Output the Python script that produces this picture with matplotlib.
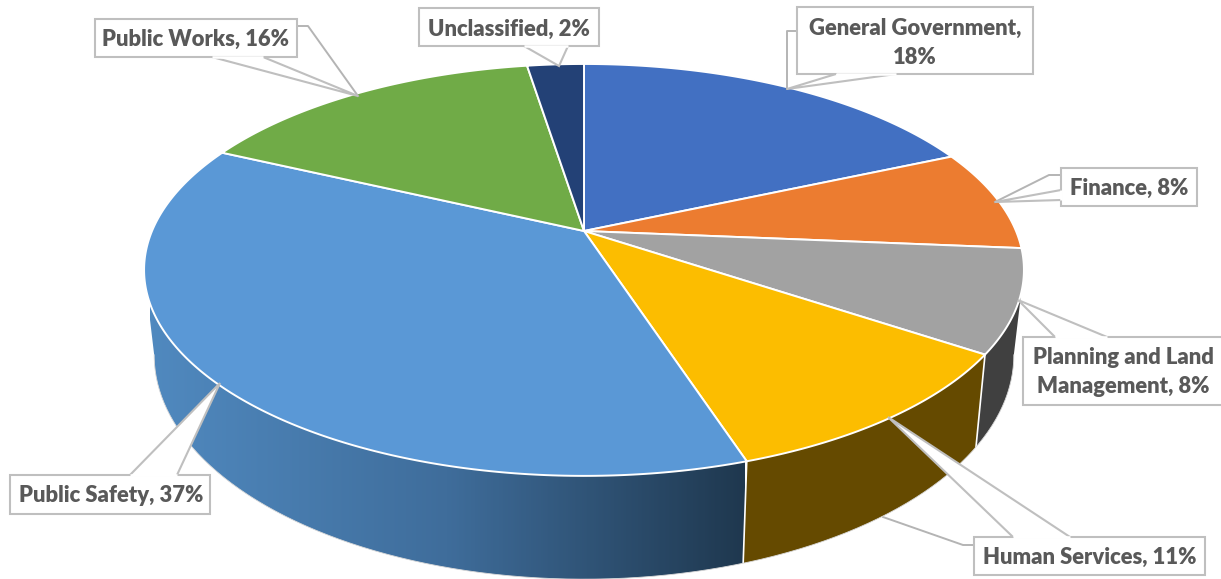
import numpy as np
import matplotlib
matplotlib.use('Agg')
import matplotlib.pyplot as plt
from matplotlib.colors import LinearSegmentedColormap
from matplotlib.patches import Polygon, Rectangle

names = ['General Government', 'Finance', 'Planning and Land\nManagement', 'Human Services',
         'Public Safety', 'Public Works', 'Unclassified']
percent_labels = [18, 8, 8, 11, 37, 16, 2]
values = [18.4, 7.95, 8.05, 10.6, 37.0, 15.5, 2.5]
top_colors = ['#4270c2', '#ec7c30', '#a2a2a2', '#fcbd00', '#5a98d6', '#70ab47', '#234176']
side_colors = {2: '#404040', 3: '#654a00'}

# x0, y0, x1, y1 of the label boxes
boxes = [(797, 7, 1033, 74), (1061, 168, 1197, 206), (1023, 337, 1226, 405), (974, 537, 1205, 575),
         (10, 475, 210, 514), (95, 19, 297, 57), (419, 8, 599, 46)]
text_pos = [(915, 43), (1129, 188), (1123, 372), (1090, 557), (111, 496), (196, 39), (509, 29)]
# callout: base point, tip, base point
wedges = [((836, 74), (787, 89), (896, 74)), ((1061, 190), (995, 202), (1061, 200)),
          ((1055, 337), (1018, 300), (1107, 337)), ((1013, 537), (888, 417), (1070, 537)),
          ((130, 475), (220, 383), (177, 475)), ((212, 57), (358, 96), (263, 57)),
          ((524, 46), (559, 66), (568, 46))]
leaders = [[(797, 31), (787, 31), (787, 89)], [(1061, 175), (1049, 175), (995, 202)], None,
           [(974, 545), (963, 545), (883, 517)], None, [(297, 26), (308, 26), (358, 96)], None]

CX = 584
TOP = (231, 432, 198.6, 0.189)
BOTTOM = (312.5, 422, 216, 0.19)


def rim(theta, geom):
    # circle seen in perspective, theta clockwise from 12 o'clock
    cy, a, b, k = geom
    u, v = np.sin(theta), np.cos(theta)
    d = 1 + k * v
    return CX + a * u / d, cy - b * v / d


def arc(start, end, geom):
    return rim(np.linspace(start, end, 200), geom)


def side_poly(start, end):
    x1, y1 = arc(start, end, TOP)
    x2, y2 = arc(start, end, BOTTOM)
    return np.r_[x1, x2[::-1]], np.r_[y1, y2[::-1]]


edges = np.r_[0, np.cumsum(values)] / np.sum(values) * 2 * np.pi
side_from = np.arccos(-TOP[3])
side_to = 2 * np.pi - side_from

fig = plt.figure(figsize=(12.21, 5.79), dpi=100)
ax = fig.add_axes([0, 0, 1, 1])

# outer wall, back to front
for i in side_colors:
    sx, sy = side_poly(max(edges[i], side_from), edges[i + 1])
    ax.fill(sx, sy, color=side_colors[i], lw=0, zorder=2)

sx, sy = side_poly(edges[4], side_to)
cmap = LinearSegmentedColormap.from_list('safety', ['#5089bf', '#3f6d9b', '#1f384f'])
im = ax.imshow(np.linspace(0, 1, 300).reshape(1, -1), cmap=cmap, aspect='auto',
               extent=(150, 745, 600, 250), zorder=2)
im.set_clip_path(Polygon(np.c_[sx, sy], closed=True, transform=ax.transData))

# separators on the wall
for i in [3, 4]:
    x1, y1 = rim(edges[i], TOP)
    x2, y2 = rim(edges[i], BOTTOM)
    ax.plot([x1, x2], [y1, y2], color='white', lw=1.2, zorder=3)
bx, by = arc(side_from, side_to, BOTTOM)
ax.plot(bx, by, color='#d9d9d9', lw=0.6, zorder=3)

# top face
for i in range(len(values)):
    x, y = arc(edges[i], edges[i + 1], TOP)
    ax.fill(np.r_[CX, x], np.r_[TOP[0], y], facecolor=top_colors[i], edgecolor='white',
            lw=1.4, joinstyle='round', zorder=4)

# labels
for i in range(len(names)):
    if leaders[i]:
        ax.plot(*zip(*leaders[i]), color='#b4b4b4', lw=1.4, zorder=5 if i != 3 else 1)
    x0, y0, x1, y1 = boxes[i]
    ax.add_patch(Rectangle((x0, y0), x1 - x0, y1 - y0, facecolor='white', edgecolor='#bfbfbf', lw=1.5, zorder=6))
    p1, tip, p2 = wedges[i]
    ax.add_patch(Polygon([p1, tip, p2], closed=False, facecolor='white', edgecolor='#bfbfbf', lw=1.5, zorder=6))
    ax.plot(*zip(p1, p2), color='white', lw=1.8, zorder=6, solid_capstyle='butt')
    sep = ' ' if i != 0 else '\n'
    label = '%s,%s%d%%' % (names[i], sep, percent_labels[i])
    ax.text(text_pos[i][0], text_pos[i][1], label, ha='center', va='center', color='#595959',
            fontsize=15.8, fontweight='heavy', family='Lato', linespacing=1.5, zorder=7)

ax.set_xlim(0, 1221)
ax.set_ylim(579, 0)
ax.axis('off')
fig.savefig('out.png', dpi=100)
